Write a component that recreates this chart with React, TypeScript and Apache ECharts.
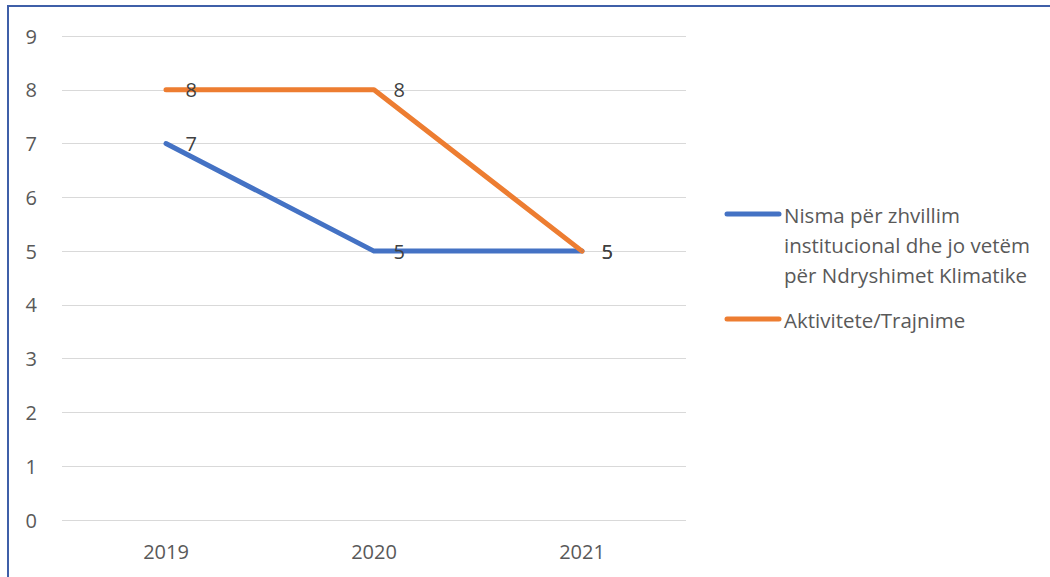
import React, { useEffect, useRef } from "react";
import * as echarts from "echarts";

const categories = ["2019", "2020", "2021"];
const seriesNames = [
  "Nisma për zhvillim institucional dhe jo vetëm për Ndryshimet Klimatike",
  "Aktivitete/Trajnime",
];
const legendLines = [
  ["Nisma për zhvillim", "institucional dhe jo vetëm", "për Ndryshimet Klimatike"],
  ["Aktivitete/Trajnime"],
];
const nismaValues = [7, 5, 5];
const aktivitetValues = [8, 8, 5];
const colors = ["#4472C4", "#ED7D31"];

const FONT = "'Open Sans', sans-serif";
const TEXT = "#595959";

export default function App() {
  const ref = useRef<HTMLDivElement>(null);
  useEffect(() => {
    if (!ref.current) return;
    const chart = echarts.init(ref.current, null, { renderer: "svg" });
    const legendGraphics: any[] = [];
    const legendTops = [214, 319];
    legendLines.forEach((lines, i) => {
      const y = legendTops[i];
      legendGraphics.push({
        type: "line",
        shape: { x1: 727, y1: y, x2: 779, y2: y },
        style: { stroke: colors[i], lineWidth: 5, lineCap: "round" },
      });
      lines.forEach((t, j) => {
        legendGraphics.push({
          type: "text",
          x: 784,
          y: y + 1 + j * 30,
          style: {
            text: t,
            fill: TEXT,
            fontSize: 20.5,
            fontFamily: FONT,
            verticalAlign: "middle",
          },
        });
      });
    });
    const labelCfg = {
      show: true,
      position: "right",
      distance: 19,
      color: "#404040",
      fontSize: 20,
      fontFamily: FONT,
    };
    chart.setOption({
      animation: false,
      backgroundColor: "#fff",
      textStyle: { fontFamily: FONT },
      grid: { left: 62, right: 364, top: 36, bottom: 57, containLabel: false },
      xAxis: {
        type: "category",
        data: categories,
        boundaryGap: true,
        axisLine: { show: false },
        axisTick: { show: false },
        axisLabel: { color: TEXT, fontSize: 20, margin: 21, fontFamily: FONT },
      },
      yAxis: {
        type: "value",
        min: 0,
        max: 9,
        interval: 1,
        axisLine: { show: false },
        axisTick: { show: false },
        axisLabel: { color: TEXT, fontSize: 20, margin: 25, fontFamily: FONT },
        splitLine: { lineStyle: { color: "#d9d9d9", width: 1 } },
      },
      series: [
        {
          name: seriesNames[0],
          type: "line",
          data: nismaValues,
          symbol: "circle",
          symbolSize: 1,
          itemStyle: { color: colors[0] },
          lineStyle: { color: colors[0], width: 5, cap: "round", join: "round" },
          label: labelCfg,
        },
        {
          name: seriesNames[1],
          type: "line",
          data: aktivitetValues,
          symbol: "circle",
          symbolSize: 1,
          itemStyle: { color: colors[1] },
          lineStyle: { color: colors[1], width: 5, cap: "round", join: "round" },
          label: labelCfg,
        },
      ],
      graphic: [
        {
          type: "rect",
          shape: { x: 8, y: 6, width: 1100, height: 600 },
          style: { fill: "none", stroke: "#3F5FA8", lineWidth: 2 },
          z: 100,
        },
        ...legendGraphics,
      ],
    });
    return () => chart.dispose();
  }, []);
  return (
    <div
      ref={ref}
      style={{ position: "absolute", left: 0, top: 0, width: 1050, height: 577 }}
    />
  );
}
